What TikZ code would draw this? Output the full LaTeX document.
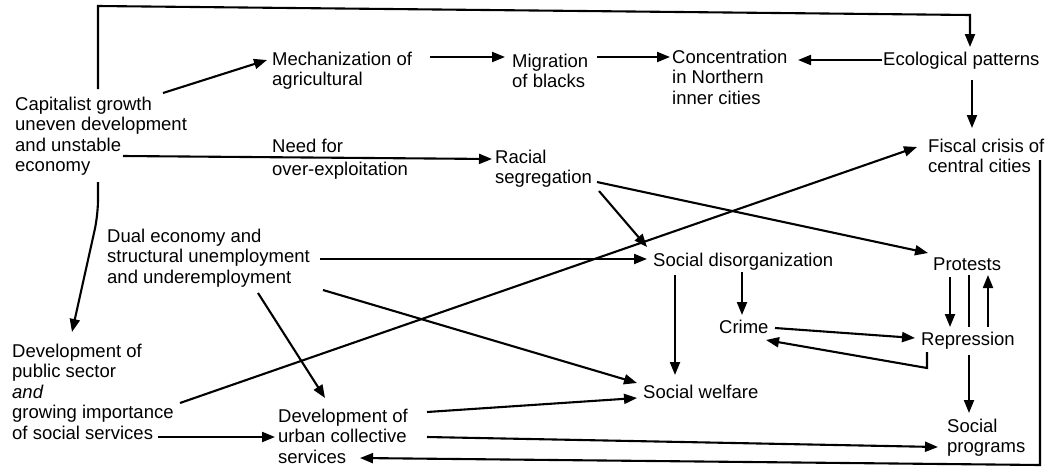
\documentclass[tikz,border=0pt]{standalone}
\usepackage{fontspec}
\setmainfont{Liberation Sans}
\usetikzlibrary{arrows.meta,calc}
% multi-line label whose baseline is the first line
\newcommand{\lines}[1]{\begin{tabular}[t]{@{}l@{}}#1\end{tabular}}
\tikzset{
  lbl/.style={inner sep=0pt, anchor=base west, font=\fontsize{18.5}{20.5}\selectfont},
  link/.style={line width=2.1pt, -{Triangle[length=13pt,width=10pt]}},
  plain/.style={line width=2.1pt}
}
\begin{document}
\begin{tikzpicture}[x=1pt,y=-1pt]
\useasboundingbox (0,0) rectangle (1049,469);

% labels
\node[lbl] (cap) at (15,110) {\lines{Capitalist growth\\uneven development\\and unstable\\economy}};
\node[lbl] (mech) at (272,65) {\lines{Mechanization of\\agricultural}};
\node[lbl] (migr) at (512,67) {\lines{Migration\\of blacks}};
\node[lbl] (conc) at (672,63) {\lines{Concentration\\in Northern\\inner cities}};
\node[lbl] (eco) at (883,65) {Ecological patterns};
\node[lbl] (need) at (272,152) {\lines{Need for\\[3pt]over-exploitation}};
\node[lbl] (racial) at (495,163) {\lines{Racial\\segregation}};
\node[lbl] (fiscal) at (928,152) {\lines{Fiscal crisis of\\central cities}};
\node[lbl] (dual) at (107,242) {\lines{Dual economy and\\structural unemployment\\and underemployment}};
\node[lbl] (sdis) at (653,266) {Social disorganization};
\node[lbl] (prot) at (933,270) {Protests};
\node[lbl] (crime) at (719,333) {Crime};
\node[lbl] (repr) at (921,345) {Repression};
\node[lbl] (swel) at (643,398) {Social welfare};
\node[lbl] (pub) at (12,357) {\lines{Development of\\public sector\\\textit{and}\\growing importance\\of social services}};
\node[lbl] (urban) at (278,422) {\lines{Development of\\urban collective\\services}};
\node[lbl] (sprog) at (947,432) {\lines{Social\\programs}};

% connectors
\draw[link] ($(cap.base west)+(83,-21)$) -- ($(cap.base west)+(83,-104)$)
  -- ($(eco.base west)+(87,-50)$) -- ($(eco.base west)+(87,-18)$);
\draw[link] ($(cap.base west)+(148,-17)$) -- ($(mech.base west)+(-5,-5)$);
\draw[link] ($(cap.base west)+(108,46)$) -- ($(racial.base west)+(-3,-4)$);
\draw[link, rounded corners=15pt] ($(cap.base west)+(83,72)$) -- ($(cap.base west)+(83,105)$)
  -- ($(pub.base west)+(60,-25)$);
\draw[link] ($(mech.base west)+(158,-8)$) -- ($(migr.base west)+(-7,-10)$);
\draw[link] ($(migr.base west)+(85,-10)$) -- ($(conc.base west)+(-2,-6)$);
\draw[link] ($(eco.base west)+(-1,-5)$) -- ($(conc.base west)+(126,-3)$);
\draw[link] ($(eco.base west)+(89,15)$) -- ($(fiscal.base west)+(44,-24)$);
\draw[link] ($(fiscal.base west)+(112,8)$) -- ($(fiscal.base west)+(112,313)$)
  -- ($(urban.base west)+(82,36)$);
\draw[link] ($(racial.base west)+(104,28)$) -- ($(sdis.base west)+(-6,-19)$);
\draw[link] ($(racial.base west)+(102,19)$) -- ($(prot.base west)+(-5,-17)$);
\draw[link] ($(dual.base west)+(213,17)$) -- ($(sdis.base west)+(-6,-7)$);
\draw[link] ($(dual.base west)+(216,48)$) -- ($(swel.base west)+(-6,-15)$);
\draw[link] ($(dual.base west)+(151,51)$) -- ($(urban.base west)+(47,-24)$);
\draw[link] ($(pub.base west)+(168,46)$) -- ($(fiscal.base west)+(-11,-5)$);
\draw[link] ($(pub.base west)+(146,80)$) -- ($(urban.base west)+(-3,15)$);
\draw[link] ($(sdis.base west)+(89,6)$) -- ($(crime.base west)+(23,-18)$);
\draw[link] ($(sdis.base west)+(22,9)$) -- ($(swel.base west)+(32,-23)$);
\draw[link] ($(crime.base west)+(56,-5)$) -- ($(repr.base west)+(-6,-7)$);
\draw[link] ($(repr.base west)+(6,7)$) -- ($(repr.base west)+(6,23)$) -- ($(crime.base west)+(47,7)$);
\draw[link] ($(prot.base west)+(17,7)$) -- ($(repr.base west)+(29,-18)$);
\draw[plain] ($(prot.base west)+(36,5)$) -- ($(repr.base west)+(48,-18)$);
\draw[link] ($(repr.base west)+(67,-18)$) -- ($(prot.base west)+(55,5)$);
\draw[link] ($(repr.base west)+(48,10)$) -- ($(sprog.base west)+(22,-19)$);
\draw[link] ($(urban.base west)+(149,-10)$) -- ($(swel.base west)+(-6,0)$);
\draw[link] ($(urban.base west)+(149,15)$) -- ($(sprog.base west)+(-9,15)$);
\end{tikzpicture}
\end{document}
